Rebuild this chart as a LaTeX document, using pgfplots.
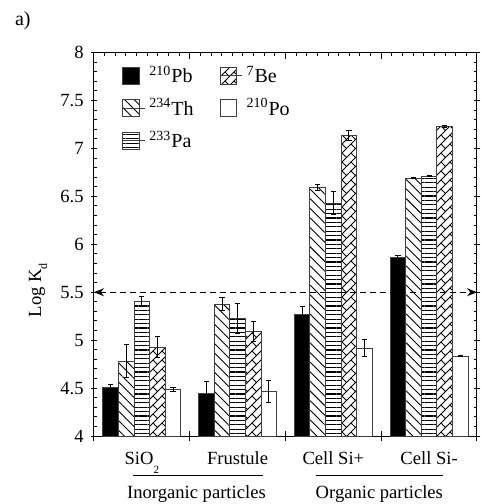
\documentclass[border=0pt]{standalone}
\usepackage{fontspec}
\setmainfont{Liberation Serif}
\usepackage{pgfplots}
\pgfplotsset{compat=1.18}
\usetikzlibrary{patterns, patterns.meta, arrows.meta}

% chevron-like weave fill for 7Be
\pgfdeclarepatternformonly{weave}{\pgfqpoint{-0.5pt}{-0.5pt}}{\pgfqpoint{5pt}{5pt}}{\pgfqpoint{4.5pt}{4.5pt}}{
  \pgfsetlinewidth{0.45pt}
  \pgfpathmoveto{\pgfqpoint{0pt}{0pt}}\pgfpathlineto{\pgfqpoint{4.5pt}{4.5pt}}
  \pgfpathmoveto{\pgfqpoint{0pt}{4.5pt}}\pgfpathlineto{\pgfqpoint{2.25pt}{2.25pt}}
  \pgfusepath{stroke}
}

\tikzset{
  pb/.style={fill=black, draw=black!75, line width=0.5pt},
  th/.style={fill=white, draw=black!75, line width=0.5pt, postaction={pattern={Lines[angle=-45,distance=3.4pt,line width=0.45pt]}}},
  pa/.style={fill=white, draw=black!75, line width=0.5pt, postaction={pattern={Lines[angle=0,distance=2.2pt,line width=0.55pt]}}},
  be/.style={fill=white, draw=black!75, line width=0.5pt, postaction={pattern=weave}},
  po/.style={fill=white, draw=black!75, line width=0.5pt},
}

\begin{document}
\begin{tikzpicture}
\useasboundingbox (-47pt,-34pt) rectangle (194pt,218pt);
\begin{axis}[
  at={(0,0)}, anchor=south west,
  scale only axis, width=191.5pt, height=191.7pt,
  font=\fontsize{9.3}{10.5}\selectfont,
  xmin=-0.5, xmax=3.5, ymin=4, ymax=8,
  clip=false,
  xtick={0,1,2,3},
  xticklabels={SiO\raisebox{-4.5pt}{\fontsize{5.5}{6}\selectfont 2}, Frustule, Cell Si+, Cell Si-},
  x tick style={draw=none},
  xtick pos=left,
  xticklabel style={anchor=base, yshift=-12.5pt},
  extra x ticks={-0.5,0.5,1.5,2.5,3.5},
  extra x tick labels={},
  extra x tick style={tick align=center, major tick length=5pt, x tick style={draw=black, line width=0.5pt}},
  ytick={4,4.5,...,8},
  tick align=center,
  major tick length=3.3pt,
  extra y ticks={4.1,4.2,4.3,4.4,4.6,4.7,4.8,4.9,5.1,5.2,5.3,5.4,5.6,5.7,5.8,5.9,6.1,6.2,6.3,6.4,6.6,6.7,6.8,6.9,7.1,7.2,7.3,7.4,7.6,7.7,7.8,7.9},
  extra y tick labels={},
  extra y tick style={tick align=inside, major tick length=1.7pt},
  /pgf/number format/assume math mode=true,
  yticklabel style={font=\fontsize{9.3}{10.5}\selectfont},
  ylabel={Log K\raisebox{-3pt}{\fontsize{6}{6}\selectfont d}},
  ylabel style={at={(axis description cs:-0.146,0.38)}, anchor=center},
  axis line style={line width=0.5pt},
  tick style={line width=0.5pt, black},
  legend columns=2,
  legend style={draw=none, fill=none, at={(axis description cs:0,1)}, anchor=north west,
    xshift=11pt, yshift=-2.5pt, font=\fontsize{10}{11}\selectfont, row sep=2.5pt,
    /tikz/every even column/.append style={column sep=11pt}},
  legend cell align=left,
  legend image code/.code={\draw[#1] (0pt,-4.2pt) rectangle (8.4pt,4.2pt); \path[draw=none, fill=none, pattern=none] (0pt,0pt) -- (11pt,0pt);},
  error bars/y dir=both, error bars/y explicit,
  error bars/error bar style={line width=0.5pt, black},
  error bars/error mark options={rotate=90, mark size=1.3pt, line width=0.5pt, black},
]
% each series is drawn at its category shifted by whole bar widths (0.163 axis units = 7.8pt)
\addplot[ybar, bar width=7.8pt, bar shift=0pt, x filter/.expression={x-0.326}, pb] coordinates {
  (0,4.51) +- (0,0.025)
  (1,4.44) +- (0,0.127)
  (2,5.27) +- (0,0.077)
  (3,5.866) +- (0,0.02)
};
\addplot[ybar, bar width=7.8pt, bar shift=0pt, x filter/.expression={x+0.163}, be] coordinates {
  (0,4.927) +- (0,0.108)
  (1,5.091) +- (0,0.103)
  (2,7.138) +- (0,0.052)
  (3,7.231) +- (0,0.008)
};
\addplot[ybar, bar width=7.8pt, bar shift=0pt, x filter/.expression={x-0.163}, th] coordinates {
  (0,4.78) +- (0,0.174)
  (1,5.374) +- (0,0.066)
  (2,6.593) +- (0,0.034)
  (3,6.69) +- (0,0.008)
};
\addplot[ybar, bar width=7.8pt, bar shift=0pt, x filter/.expression={x+0.326}, po] coordinates {
  (0,4.485) +- (0,0.02)
  (1,4.464) +- (0,0.112)
  (2,4.916) +- (0,0.087)
  (3,4.83) +- (0,0.005)
};
\addplot[ybar, bar width=7.8pt, bar shift=0pt, pa] coordinates {
  (0,5.405) +- (0,0.05)
  (1,5.227) +- (0,0.157)
  (2,6.43) +- (0,0.12)
  (3,6.71) +- (0,0.005)
};
\legend{\textsuperscript{210}Pb, \textsuperscript{7}Be, \textsuperscript{234}Th, \textsuperscript{210}Po, \textsuperscript{233}Pa}
% threshold line at log Kd = 5.5
\addplot[black, line width=0.65pt, dash pattern=on 3pt off 2pt, {Stealth[length=5pt,width=4pt]}-{Stealth[length=5pt,width=4pt]}, forget plot, error bars/y dir=none] coordinates {(-0.5,5.5) (3.5,5.5)};
% group brackets under the categories
\draw[line width=0.6pt] ([yshift=-19.85pt]axis cs:-0.093,4) -- ([yshift=-19.85pt]axis cs:1.265,4);
\draw[line width=0.6pt] ([yshift=-19.85pt]axis cs:1.815,4) -- ([yshift=-19.85pt]axis cs:3.15,4);
\node[anchor=base] at ([yshift=-31pt]axis cs:0.57,4) {Inorganic particles};
\node[anchor=base] at ([yshift=-31pt]axis cs:2.48,4) {Organic particles};
\node[anchor=base west, font=\fontsize{10}{11}\selectfont] at ([xshift=-43pt, yshift=13.5pt]rel axis cs:0,1) {a)};
\end{axis}
% top axis: ticks pointing inward, with minor ticks
\begin{axis}[
  at={(0,0)}, anchor=south west,
  scale only axis, width=191.5pt, height=191.7pt,
  xmin=-0.5, xmax=3.5, ymin=4, ymax=8,
  axis x line*=top, axis y line=none,
  xtick={-0.5,0.5,1.5,2.5,3.5}, xticklabels={},
  minor x tick num=8,
  tick align=inside,
  major tick length=3pt, minor tick length=1.7pt,
  tick style={line width=0.5pt, black},
  axis line style={line width=0.5pt, -},
]
\end{axis}
\end{tikzpicture}
\end{document}
